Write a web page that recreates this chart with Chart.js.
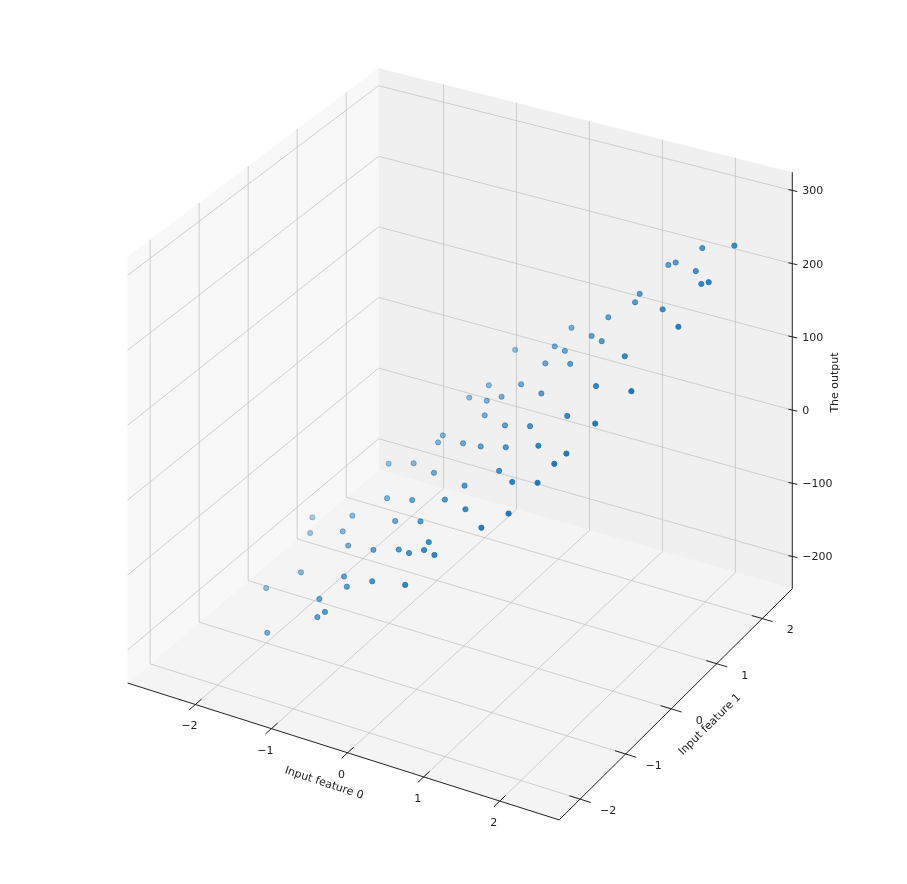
<!DOCTYPE html>
<html>
<head>
<meta charset="utf-8">
<script src="https://cdn.jsdelivr.net/npm/chart.js@4"></script>
<style>
  body { margin: 0; background: #fff; }
  #wrap { width: 907px; height: 884px; }
</style>
</head>
<body>
<div id="wrap"><canvas id="chart" width="907" height="884"></canvas></div>
<script>
'use strict';

// data: input feature 0, input feature 1, the output
const feature0 = [-1.0,-1.1,-0.9,-0.8,-0.7,-1.3,-0.4,-1.3,-0.6,-0.9,-0.3,-1.2,-0.5,-0.2,-0.1,-0.8,0.1,-0.4,-0.6,0.0,
  0.3,-0.2,-0.6,0.2,-0.5,0.4,-0.1,0.1,0.1,-0.2,0.6,-0.3,0.3,0.8,0.0,0.5,-0.2,0.9,0.2,0.7,
  1.1,0.4,1.0,0.4,0.6,1.3,0.8,1.2,0.6,1.5,0.9,1.4,0.5,1.7,1.1,1.4,1.0,1.6,1.3,2.0,
  1.3,1.8,1.5,2.2,1.6,2.0,2.3,1.9,2.2,2.4,-1.8,-2.0,-1.6,-0.9,0.1,-1.6,-1.9,-1.1];
const feature1 = [-1.5,-1.3,-1.1,-1.2,-0.8,-0.5,-1.3,-0.3,-0.5,-0.2,-0.9,0.3,-0.3,-0.6,-1.0,0.2,-0.9,0.0,0.5,-0.4,
  -1.1,0.3,0.4,-0.3,0.9,-0.6,0.6,-1.0,0.2,0.8,-0.2,1.0,0.4,-0.9,0.8,0.1,1.4,-0.4,0.9,0.3,
  -0.8,1.1,0.0,1.3,0.7,-0.5,1.0,0.3,1.2,-0.2,1.3,0.6,1.5,0.1,1.2,-0.3,1.5,0.9,1.6,0.4,
  1.7,1.4,2.0,1.1,2.0,1.8,1.6,2.1,1.6,2.0,-0.4,-1.0,-1.6,-1.5,-1.4,-0.9,-0.2,-0.7];
const output = [-150,-140,-115,-120,-90,-100,-95,-90,-65,-60,-72,-50,-45,-48,-65,-32,-50,-22,-5,-24,
  -50,7,-9,-5,27,-14,31,-55,17,37,21,44,40,-10,48,33,73,26,65,56,
  12,88,55,100,75,42,104,84,105,70,128,113,117,99,132,59,145,142,168,134,
  174,183,202,187,208,218,222,230,217,252,-123,-170,-184,-140,-79,-142,-116,-102];

const ticks0 = [-2, -1, 0, 1, 2];
const ticks1 = [-2, -1, 0, 1, 2];
const ticksZ = [-200, -100, 0, 100, 200, 300];

const range0 = [-2.89, 2.78];
const range1 = [-2.46, 2.66];
const rangeZ = [-244, 325];

// floor corners in screen space (left, front, right, back) and wall heights
const corner = { L: [125, 685, 430], F: [560, 823, 443], R: [795, 590, 420], B: [378, 470, 405] };

function norm(v, r) { return (v - r[0]) / (r[1] - r[0]); }

// bilinear projection of the box onto the page
function project(x0, x1, z) {
  const u = norm(x0, range0), v = norm(x1, range1), w = norm(z, rangeZ);
  const mix = i => (1 - u) * (1 - v) * corner.L[i] + u * (1 - v) * corner.F[i] + u * v * corner.R[i] + (1 - u) * v * corner.B[i];
  return { x: mix(0), y: mix(1) - w * mix(2) };
}

function depth(x0, x1, z) {
  return norm(x0, range0) - norm(x1, range1) + 0.4 * norm(z, rangeZ);
}

const points = feature0.map((x0, i) => ({ x0, x1: feature1[i], z: output[i] }));
points.sort((a, b) => depth(a.x0, a.x1, a.z) - depth(b.x0, b.x1, b.z));
const depths = points.map(p => depth(p.x0, p.x1, p.z));
const dMin = Math.min(...depths), dMax = Math.max(...depths);
const colors = depths.map(d => `rgba(31,119,180,${(0.35 + 0.65 * (d - dMin) / (dMax - dMin)).toFixed(2)})`);

const axesPlugin = {
  id: 'axes3d',
  beforeDatasetsDraw(chart) {
    const ctx = chart.ctx;
    const sx = chart.scales.x, sy = chart.scales.y;
    const P = (a, b, c) => { const p = project(a, b, c); return [sx.getPixelForValue(p.x), sy.getPixelForValue(p.y)]; };
    const [a0, a1] = range0, [b0, b1] = range1, [c0, c1] = rangeZ;

    function poly(pts, fill) {
      ctx.beginPath();
      pts.forEach((p, i) => i ? ctx.lineTo(p[0], p[1]) : ctx.moveTo(p[0], p[1]));
      ctx.closePath();
      ctx.fillStyle = fill;
      ctx.fill();
    }
    function line(p, q, color, width) {
      ctx.beginPath();
      ctx.moveTo(p[0], p[1]);
      ctx.lineTo(q[0], q[1]);
      ctx.strokeStyle = color;
      ctx.lineWidth = width;
      ctx.stroke();
    }

    ctx.save();
    // panes
    poly([P(a0, b0, c0), P(a1, b0, c0), P(a1, b1, c0), P(a0, b1, c0)], '#f4f4f4');
    poly([P(a0, b0, c0), P(a0, b1, c0), P(a0, b1, c1), P(a0, b0, c1)], '#f8f8f8');
    poly([P(a0, b1, c0), P(a1, b1, c0), P(a1, b1, c1), P(a0, b1, c1)], '#f0f0f0');

    const grid = '#c4c4c4';
    ticks0.forEach(t => {
      line(P(t, b0, c0), P(t, b1, c0), grid, 0.8);
      line(P(t, b1, c0), P(t, b1, c1), grid, 0.8);
    });
    ticks1.forEach(t => {
      line(P(a0, t, c0), P(a1, t, c0), grid, 0.8);
      line(P(a0, t, c0), P(a0, t, c1), grid, 0.8);
    });
    ticksZ.forEach(t => {
      line(P(a0, b0, t), P(a0, b1, t), grid, 0.8);
      line(P(a0, b1, t), P(a1, b1, t), grid, 0.8);
    });

    // axis lines
    line(P(a0, b0, c0), P(a1, b0, c0), '#222', 1);
    line(P(a1, b0, c0), P(a1, b1, c0), '#222', 1);
    line(P(a1, b1, c0), P(a1, b1, c1), '#222', 1);

    ctx.fillStyle = '#222';
    ctx.font = '11px "DejaVu Sans"';
    ctx.textAlign = 'center';
    ctx.textBaseline = 'middle';
    const db = (b1 - b0) * 0.025, da = (a1 - a0) * 0.025;
    ticks0.forEach(t => {
      line(P(t, b0 + db, c0), P(t, b0 - db, c0), '#222', 1);
      const p = P(t, b0, c0);
      ctx.fillText(t < 0 ? '\u2212' + (-t) : String(t), p[0] - 6, p[1] + 22);
    });
    ticks1.forEach(t => {
      line(P(a1 - da, t, c0), P(a1 + da, t, c0), '#222', 1);
      const p = P(a1, t, c0);
      ctx.fillText(t < 0 ? '\u2212' + (-t) : String(t), p[0] + 28, p[1] + 12);
    });
    ticksZ.forEach(t => {
      const p = P(a1, b1, t);
      line([p[0] - 4, p[1] - 1], [p[0] + 5, p[1] + 1], '#222', 1);
      ctx.textAlign = 'left';
      ctx.fillText(t < 0 ? '\u2212' + (-t) : String(t), p[0] + 10, p[1] + 1);
      ctx.textAlign = 'center';
    });

    function label(text, x, y, angle) {
      ctx.save();
      ctx.translate(x, y);
      ctx.rotate(angle);
      ctx.fillText(text, 0, 0);
      ctx.restore();
    }
    label('Input feature 0', sx.getPixelForValue(323), sy.getPixelForValue(786), 0.32);
    label('Input feature 1', sx.getPixelForValue(712), sy.getPixelForValue(727), -0.78);
    label('The output', sx.getPixelForValue(838), sy.getPixelForValue(382), -Math.PI / 2);
    ctx.restore();
  }
};

new Chart(document.getElementById('chart'), {
  type: 'scatter',
  data: {
    datasets: [{
      data: points.map(p => project(p.x0, p.x1, p.z)),
      pointBackgroundColor: colors,
      pointBorderColor: colors,
      pointRadius: 2.6,
      pointHoverRadius: 2.6
    }]
  },
  options: {
    responsive: false,
    animation: false,
    layout: { padding: 0 },
    plugins: { legend: { display: false }, tooltip: { enabled: false } },
    scales: {
      x: { type: 'linear', min: 0, max: 907, display: false },
      y: { type: 'linear', min: 0, max: 884, reverse: true, display: false }
    }
  },
  plugins: [axesPlugin]
});
</script>
</body>
</html>
